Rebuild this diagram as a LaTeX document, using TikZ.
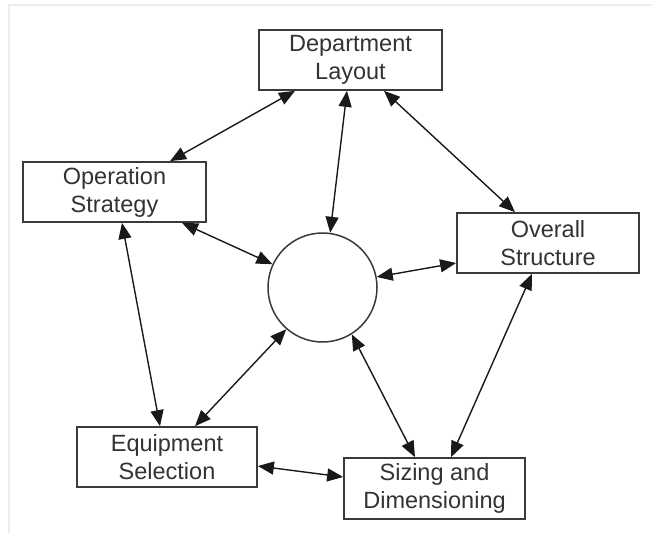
\documentclass[tikz,border=0pt]{standalone}
\usepackage{fontspec}
\setmainfont{Liberation Sans}
\usetikzlibrary{arrows.meta,calc}
\definecolor{edgegray}{HTML}{3A3A3A}
\definecolor{framegray}{HTML}{EDEDED}
\begin{document}
\begin{tikzpicture}[x=1pt,y=-1pt,
  box/.style={draw=edgegray,line width=1.7pt,fill=white,inner sep=0pt,
    align=center,text=black!80,font=\fontsize{23.5}{28}\selectfont},
  hub/.style={draw=edgegray,line width=1.5pt,circle,inner sep=0pt,minimum size=109pt},
  link/.style={line width=1.4pt,black!90,{Triangle[length=16pt,width=13pt]}-{Triangle[length=16pt,width=13pt]}}]
\useasboundingbox (0,0) rectangle (652,533);
% faint page frame
\draw[framegray,line width=2pt] (9,533) -- (9,5) -- (652,5);

% boxes
\node[box,minimum width=183pt,minimum height=60pt] (dl) at (350.5,60) {Department\\Layout};
\node[box,minimum width=183pt,minimum height=60pt] (os) at (114.5,192) {Operation\\Strategy};
\node[box,minimum width=182pt,minimum height=60pt] (ov) at (548,243) {Overall\\Structure};
\node[box,minimum width=180pt,minimum height=60pt] (eq) at (167,457) {Equipment\\Selection};
\node[box,minimum width=181pt,minimum height=61pt] (sz) at (434.5,488.5) {Sizing and\\Dimensioning};
\node[hub] (c) at (322.5,287.5) {};

% connectors
\draw[link] ($(dl.south)+(-55.5,0)$) -- ($(os.north)+(55.5,0)$);
\draw[link] ($(dl.south)+(-3.5,0)$) -- (c.82);
\draw[link] ($(dl.south)+(33.5,0)$) -- ($(ov.north)+(-33,0)$);
\draw[link] ($(os.south)+(67.5,0)$) -- (c.155);
\draw[link] ($(os.south)+(7.5,0)$) -- ($(eq.north)+(-7,0)$);
\draw[link] ($(ov.west)+(0,20)$) -- (c.11);
\draw[link] ($(ov.south)+(-16,0)$) -- ($(sz.north)+(16.5,0)$);
\draw[link] (c.-131) -- ($(eq.north)+(28,0)$);
\draw[link] (c.-58) -- ($(sz.north)+(-19.5,0)$);
\draw[link] ($(eq.east)+(0,9)$) -- ($(sz.west)+(0,-11.5)$);
\end{tikzpicture}
\end{document}
